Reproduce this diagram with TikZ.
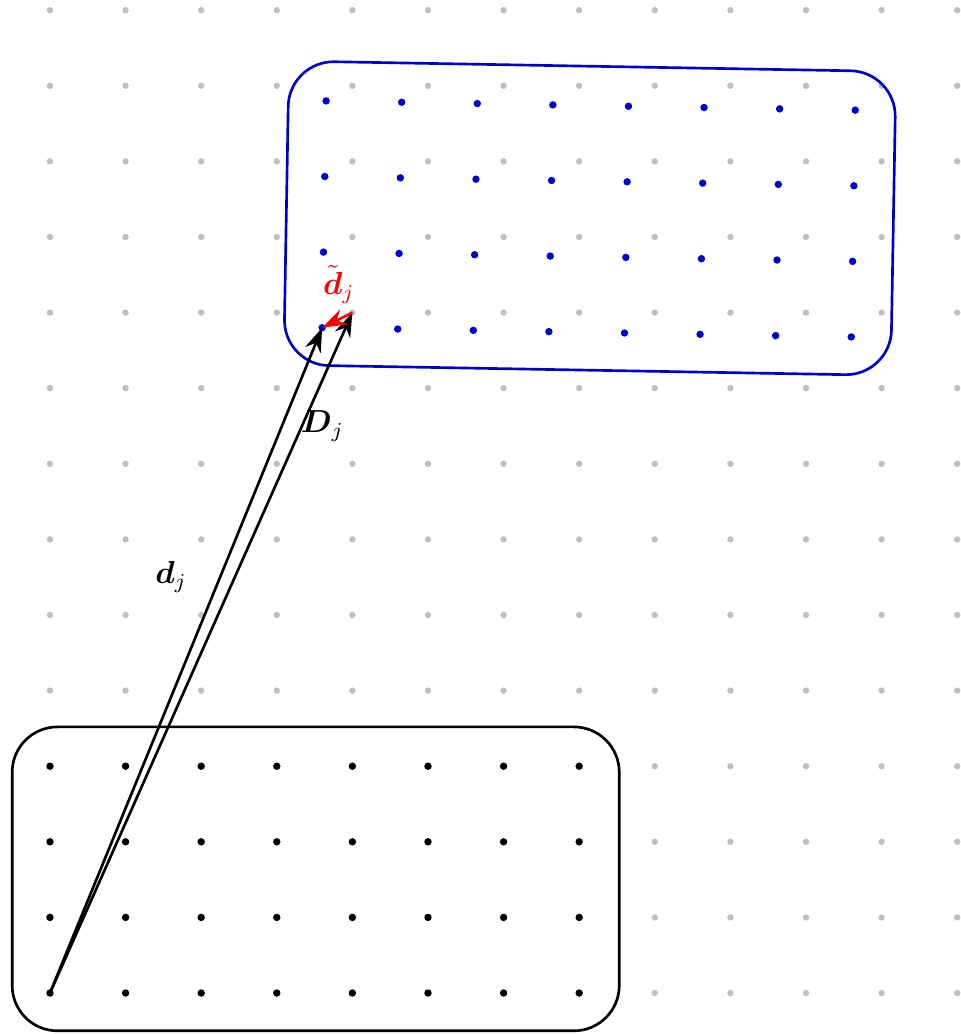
\documentclass[tikz,border=0pt]{standalone}
\usepackage{amssymb,amsmath}
\usetikzlibrary{arrows.meta}

\begin{document}
\begin{tikzpicture}[
griddot/.style={
    fill=gray!50,
    draw=none
    },
box/.style={
    rounded corners=0.6cm,
    line width=1pt
    },
vec/.style={
    -{Stealth[length=3.2mm,width=2.2mm]},
    line width=1pt,
    draw=black
    },
lbl/.style={
    font=\large
    }
]
\useasboundingbox (-0.661,-0.542) rectangle (12.05,13.135);
% background lattice
\foreach \x in {0,...,12}
  \foreach \y in {0,...,13}
    \fill[griddot] (\x,\y) circle (1.2pt);
% source block
\draw[box] (-0.5,-0.5) rectangle (7.53,3.52);
\foreach \x in {0,...,7}
  \foreach \y in {0,...,3}
    \fill[black] (\x,\y) circle (1.4pt);
\coordinate (orig) at (0,0);
\coordinate (match) at (4,9);
% displaced block
\begin{scope}[shift={(3.6,8.8)},rotate=-1]
\draw[box,draw=blue!80!black] (-0.5,-0.5) rectangle (7.53,3.52);
\foreach \x in {0,...,7}
  \foreach \y in {0,...,3}
    \fill[blue!80!black] (\x,\y) circle (1.4pt);
\coordinate (borig) at (0,0);
\end{scope}
\draw[vec] (orig) -- (borig);
\draw[vec] (orig) -- (match);
\draw[vec,draw=red] (match) -- (borig);
\node(dlabel) at (1.6,5.5) [lbl] {$\boldsymbol{d}_j$};
\node(Dlabel) at (3.6,7.5) [lbl] {$\boldsymbol{D}_j$};
\node(dtlabel) at (3.82,9.37) [lbl,text=red] {$\tilde{\boldsymbol{d}}_j$};
\end{tikzpicture}
\end{document}
